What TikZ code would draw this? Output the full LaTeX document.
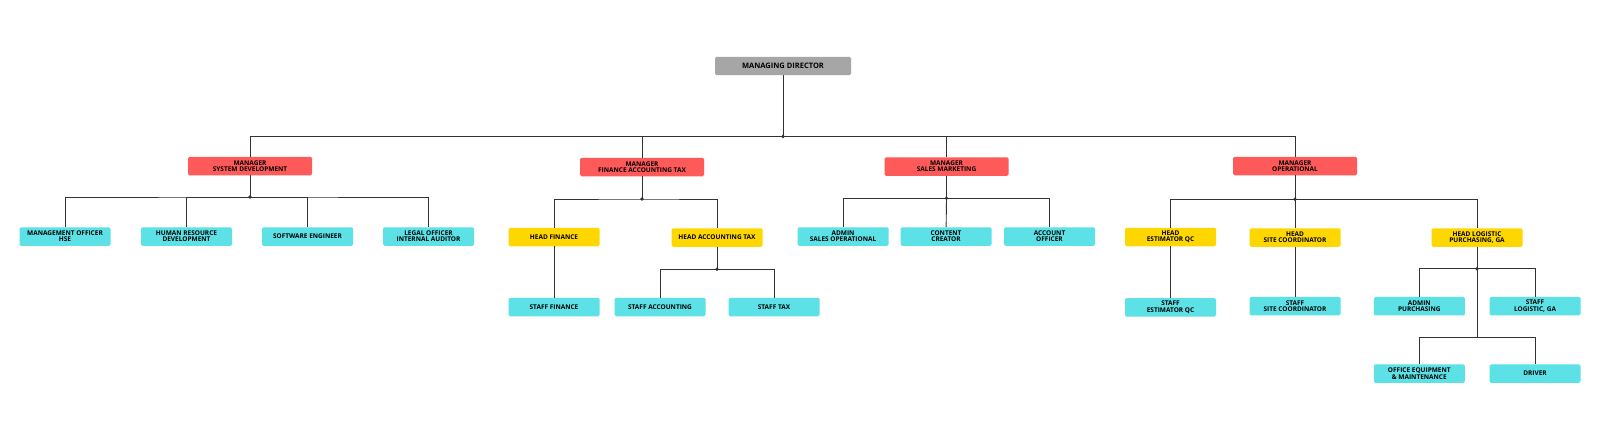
\documentclass[tikz,border=0pt]{standalone}
\usepackage{fontspec}
\setmainfont{Open Sans}
\definecolor{mdgray}{HTML}{A6A6A6}
\definecolor{mgrred}{HTML}{FF5A5A}
\definecolor{headyel}{HTML}{FFD700}
\definecolor{staffcyan}{HTML}{5CE1E6}
\definecolor{linegray}{HTML}{333333}
\begin{document}
\begin{tikzpicture}[x=1pt,y=-1pt,
        box/.style={rounded corners=1.5pt,inner sep=0pt,minimum height=18.5pt,
            align=center,font=\bfseries\fontsize{6.5}{6.3}\selectfont},
        topbox/.style={box,fill=mdgray,minimum width=136pt,minimum height=18.3pt,
            font=\bfseries\fontsize{7.5}{7.5}\selectfont},
        mgrbox/.style={box,fill=mgrred,minimum width=124pt},
        headbox/.style={box,fill=headyel,minimum width=91pt},
        staffbox/.style={box,fill=staffcyan,minimum width=91pt},
        link/.style={linegray,line width=0.9pt}]
            \fill[white] (0,0) rectangle (1600,434);
            \useasboundingbox (0,0) rectangle (1600,434);

            \node[topbox] (md) at (783,66) {MANAGING DIRECTOR};

            \node[mgrbox] (msd) at (250,166) {MANAGER\\SYSTEM DEVELOPMENT};
            \node[mgrbox] (mfa) at (642,167) {MANAGER\\FINANCE ACCOUNTING TAX};
            \node[mgrbox] (msm) at (946.5,166.5) {MANAGER\\SALES MARKETING};
            \node[mgrbox] (mop) at (1295,166) {MANAGER\\OPERATIONAL};

            \node[staffbox] (hse) at (65,236.5) {MANAGEMENT OFFICER\\HSE};
            \node[staffbox] (hrd) at (186.5,236.5) {HUMAN RESOURCE\\DEVELOPMENT};
            \node[staffbox] (swe) at (307.5,236.5) {SOFTWARE ENGINEER};
            \node[staffbox] (leg) at (428.5,236.5) {LEGAL OFFICER\\INTERNAL AUDITOR};

            \node[headbox] (hfin) at (554,237) {HEAD FINANCE};
            \node[headbox] (hat) at (717,237.5) {HEAD ACCOUNTING TAX};
            \node[staffbox] (sfin) at (554,307) {STAFF FINANCE};
            \node[staffbox] (sacc) at (660,307) {STAFF ACCOUNTING};
            \node[staffbox] (stax) at (774,307) {STAFF TAX};

            \node[staffbox] (adm) at (843,236.5) {ADMIN\\SALES OPERATIONAL};
            \node[staffbox] (cc) at (946,236.5) {CONTENT\\CREATOR};
            \node[staffbox] (ao) at (1049.5,236.5) {ACCOUNT\\OFFICER};

            \node[headbox] (hest) at (1170.5,237) {HEAD\\ESTIMATOR QC};
            \node[headbox] (hsite) at (1295,237.5) {HEAD\\SITE COORDINATOR};
            \node[headbox] (hlog) at (1477,237.5) {HEAD LOGISTIC\\PURCHASING, GA};
            \node[staffbox] (sest) at (1170.5,307.3) {STAFF\\ESTIMATOR QC};
            \node[staffbox] (ssite) at (1295,306.2) {STAFF\\SITE COORDINATOR};
            \node[staffbox] (apur) at (1419.3,306.2) {ADMIN\\PURCHASING};
            \node[staffbox] (slog) at (1535,306.2) {STAFF\\LOGISTIC, GA};
            \node[staffbox] (ofe) at (1419.3,373.6) {OFFICE EQUIPMENT\\\& MAINTENANCE};
            \node[staffbox] (drv) at (1535,373.6) {DRIVER};

            % junctions
            \coordinate (j0) at (783,136.5);
            \coordinate (jsd) at (250,197);
            \coordinate (jfa) at (642,199);
            \coordinate (jsm) at (946.5,198.3);
            \coordinate (jop) at (1295,199.3);
            \coordinate (jat) at (717,269.3);
            \coordinate (jlog) at (1477,268.7);
            \coordinate (jlog2) at (1477,337.7);

            \draw[link] (md) -- (j0);
            \draw[link] (msd) |- (j0) -| (mop);
            \draw[link] (j0) -| (mfa);
            \draw[link] (j0) -| (msm);

            \draw[link] (msd) -- (jsd);
            \draw[link] (hse) |- (jsd) -| (leg);
            \draw[link] (jsd) -| (hrd);
            \draw[link] (jsd) -| (swe);

            \draw[link] (mfa) -- (jfa);
            \draw[link] (hfin) |- (jfa) -| (hat);
            \draw[link] (hfin) -- (sfin);
            \draw[link] (hat) -- (jat);
            \draw[link] (sacc) |- (jat) -| (stax);

            \draw[link] (msm) -- (jsm);
            \draw[link] (adm) |- (jsm) -| (ao);
            \draw[link] (jsm) -- (cc);

            \draw[link] (mop) -- (jop);
            \draw[link] (hest) |- (jop) -| (hlog);
            \draw[link] (jop) -- (hsite);
            \draw[link] (hest) -- (sest);
            \draw[link] (hsite) -- (ssite);
            \draw[link] (hlog) -- (jlog) -- (jlog2);
            \draw[link] (apur) |- (jlog) -| (slog);
            \draw[link] (ofe) |- (jlog2) -| (drv);

            \foreach \j in {j0,jsd,jfa,jsm,jop,jat,jlog}{
                    \fill[linegray] (\j) circle (1.9pt);
                }
        \end{tikzpicture}
\end{document}
